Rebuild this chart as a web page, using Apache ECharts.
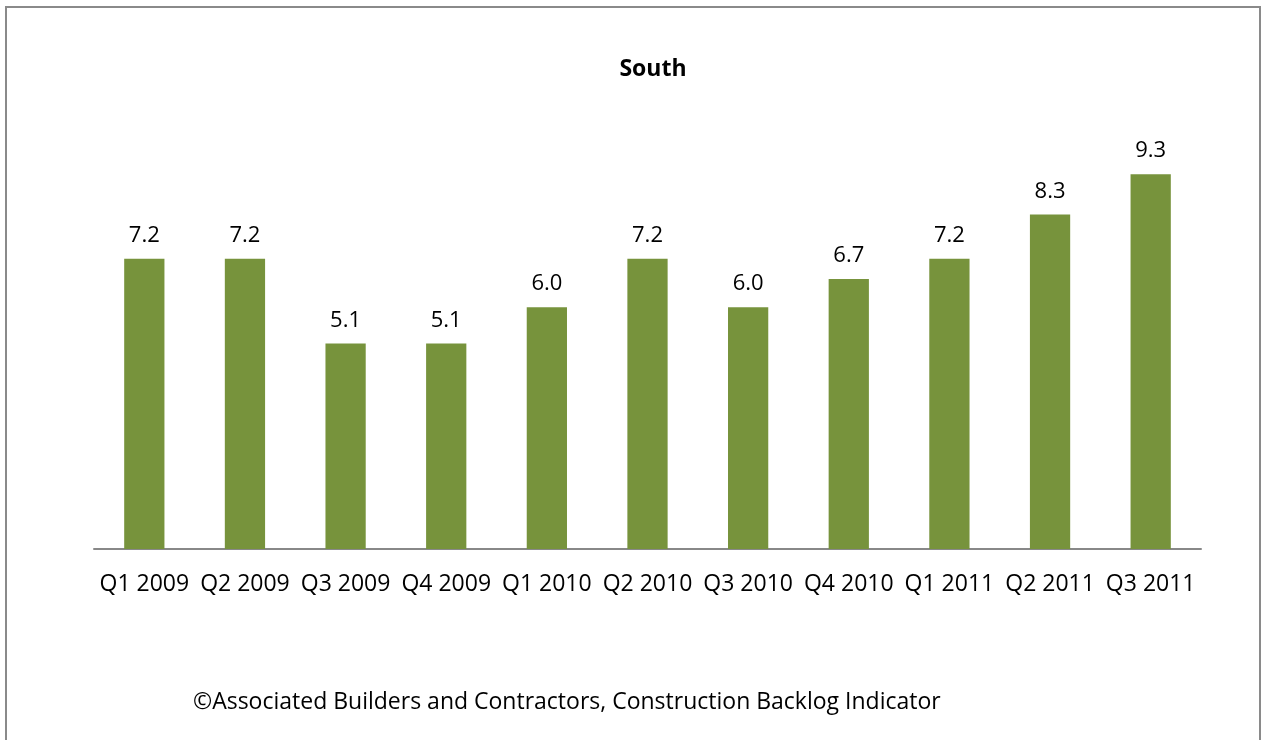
<!DOCTYPE html>
<html>
<head>
<meta charset="utf-8">
<script src="https://cdn.jsdelivr.net/npm/echarts@6/dist/echarts.min.js"></script>
<style>
  html, body { margin: 0; padding: 0; background: #fff; overflow: hidden; }
  #frame {
    position: absolute; left: 5px; top: 6px; width: 1256px; height: 800px;
    border: 2px solid #8a8a8a; box-sizing: border-box;
  }
  #chart { position: absolute; left: 0; top: 0; width: 1261px; height: 740px; }
</style>
</head>
<body>
<div id="frame"></div>
<div id="chart"></div>
<script>
const quarters = ['Q1 2009', 'Q2 2009', 'Q3 2009', 'Q4 2009', 'Q1 2010', 'Q2 2010',
  'Q3 2010', 'Q4 2010', 'Q1 2011', 'Q2 2011', 'Q3 2011'];
const backlogMonths = [7.2, 7.2, 5.1, 5.1, 6.0, 7.2, 6.0, 6.7, 7.2, 8.3, 9.3];

const chartTitle = 'South';
const footerText = '\u00A9Associated Builders and Contractors, Construction Backlog Indicator';

const fontFamily = '"Open Sans", "Noto Sans", sans-serif';
const barColor = '#77933C';

const chart = echarts.init(document.getElementById('chart'));

chart.setOption({
  backgroundColor: 'transparent',
  animation: false,
  grid: { left: 94, right: 60, top: 146, height: 403 },
  xAxis: {
    type: 'category',
    data: quarters,
    axisLine: { lineStyle: { color: '#888', width: 2 } },
    axisTick: { show: false },
    axisLabel: { color: '#000', fontFamily, fontSize: 23, margin: 24, interval: 0 }
  },
  yAxis: {
    type: 'value',
    min: 0,
    max: 10,
    show: false,
    splitLine: { show: false }
  },
  series: [{
    type: 'bar',
    data: backlogMonths,
    barWidth: '40%',
    itemStyle: { color: barColor },
    label: {
      show: true,
      position: 'top',
      distance: 12,
      color: '#000',
      fontFamily,
      fontSize: 22,
      formatter: p => p.value.toFixed(1)
    }
  }],
  graphic: [{
    type: 'text',
    x: 653,
    y: 69,
    style: {
      text: chartTitle, fontFamily, fontSize: 23, fontWeight: 'bold', fill: '#000',
      align: 'center', verticalAlign: 'middle'
    }
  }, {
    type: 'text',
    x: 193,
    y: 702,
    style: {
      text: footerText, fontFamily, fontSize: 23, fill: '#000',
      align: 'left', verticalAlign: 'middle'
    }
  }]
});
</script>
</body>
</html>
